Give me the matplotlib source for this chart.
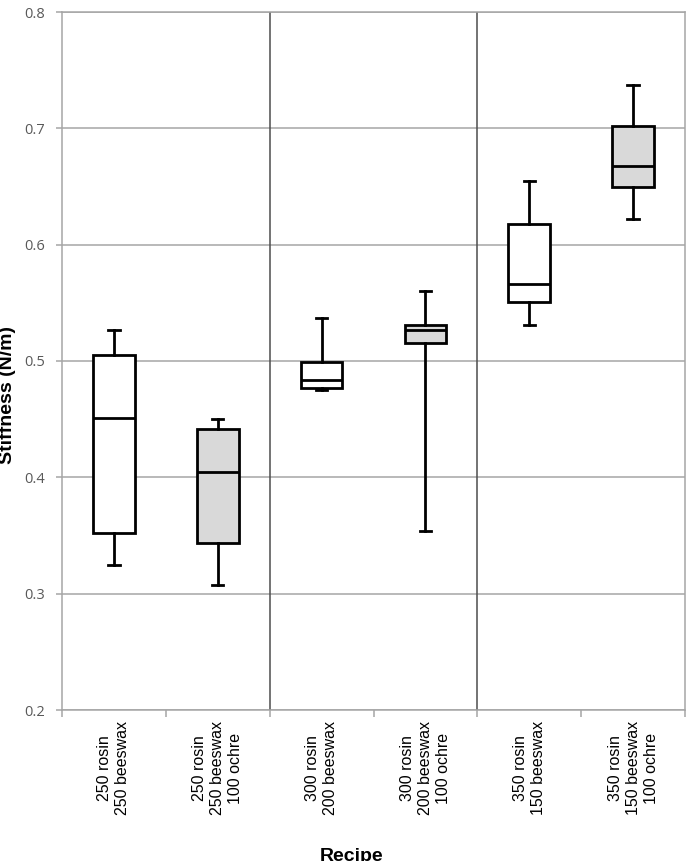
import matplotlib
matplotlib.use("Agg")
import matplotlib.pyplot as plt

# recipe labels and box stats
recipes = ["250 rosin\n250 beeswax", "250 rosin\n250 beeswax\n100 ochre",
           "300 rosin\n200 beeswax", "300 rosin\n200 beeswax\n100 ochre",
           "350 rosin\n150 beeswax", "350 rosin\n150 beeswax\n100 ochre"]
whisker_low = [0.325, 0.3075, 0.475, 0.354, 0.531, 0.622]
q1 = [0.352, 0.3435, 0.477, 0.5155, 0.551, 0.650]
median = [0.451, 0.405, 0.4835, 0.5265, 0.566, 0.668]
q3 = [0.505, 0.4415, 0.499, 0.531, 0.618, 0.702]
whisker_high = [0.527, 0.450, 0.537, 0.560, 0.655, 0.737]
has_ochre = [False, True, False, True, False, True]

fig = plt.figure(figsize=(6.87, 8.61), dpi=100)
ax = fig.add_axes([62/687, 1 - 710/861, 623/687, 698/861])

stats = []
for i in range(len(recipes)):
    stats.append({"whislo": whisker_low[i], "q1": q1[i], "med": median[i],
                  "q3": q3[i], "whishi": whisker_high[i], "fliers": []})

pos = list(range(len(recipes)))
bp = ax.bxp(stats, positions=pos, widths=0.4, patch_artist=True,
            showfliers=False, capwidths=0.11,
            boxprops=dict(linewidth=2, edgecolor="black"),
            medianprops=dict(color="black", linewidth=2),
            whiskerprops=dict(color="black", linewidth=2),
            capprops=dict(color="black", linewidth=2))
for patch, gray in zip(bp["boxes"], has_ochre):
    patch.set_facecolor("#d9d9d9" if gray else "white")
    patch.set_zorder(3)
for k in ["medians", "whiskers", "caps"]:
    for ln in bp[k]:
        ln.set_zorder(4)

ax.set_xlim(-0.5, 5.5)
ax.set_ylim(0.2, 0.8)
ax.set_yticks([0.2, 0.3, 0.4, 0.5, 0.6, 0.7, 0.8])
ax.set_yticklabels(["0.2", "0.3", "0.4", "0.5", "0.6", "0.7", "0.8"],
                   fontfamily="Open Sans", fontsize=10.5, color="#595959")
ax.yaxis.grid(True, color="#a6a6a6", linewidth=1.1)
ax.set_axisbelow(True)

# group separators
for x in [1.5, 3.5]:
    ax.axvline(x, color="#4d4d4d", linewidth=1.1, zorder=2)

ax.set_xticks([-0.5, 0.5, 1.5, 2.5, 3.5, 4.5, 5.5])
ax.set_xticklabels([])
ax.set_xticks(pos, minor=True)
ax.set_xticklabels(recipes, minor=True, rotation=90, va="top", ha="center",
                   multialignment="center", fontfamily="Liberation Sans",
                   fontsize=11.5, linespacing=1.25)
ax.tick_params(axis="x", which="major", length=5, color="#a6a6a6", width=1.1)
ax.tick_params(axis="x", which="minor", length=0, pad=8)
ax.tick_params(axis="y", length=4, color="#a6a6a6", width=1.1, pad=8)

for s in ax.spines.values():
    s.set_color("#a6a6a6")
    s.set_linewidth(1.1)

fig.text(8/687, 1 - 395/861, "Stiffness (N/m)", rotation=90, ha="center",
         va="center", fontsize=14, fontweight="bold", fontfamily="Liberation Sans")
fig.text(352/687, 1 - 848/861, "Recipe", ha="center", va="top",
         fontsize=14, fontweight="bold", fontfamily="Liberation Sans")

fig.savefig("out.png", dpi=100)
